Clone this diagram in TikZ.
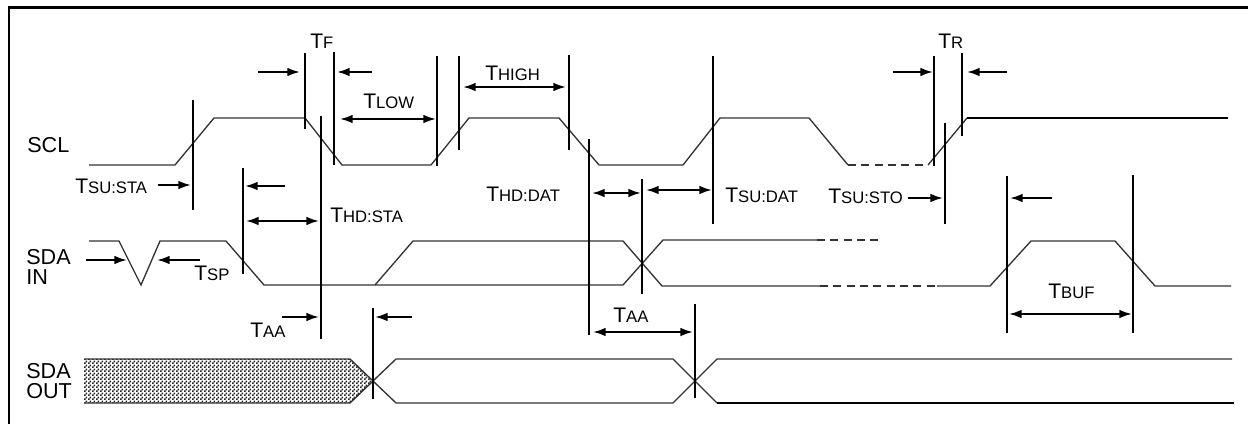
\documentclass[tikz,border=0pt]{standalone}
\usepackage{fontspec}
\setmainfont{Liberation Sans}
\usetikzlibrary{arrows.meta,patterns}
\pgfdeclarepatternformonly{checker}{\pgfqpoint{0pt}{0pt}}{\pgfqpoint{3pt}{3pt}}{\pgfqpoint{3pt}{3pt}}{%
  \pgfpathrectangle{\pgfqpoint{0pt}{0pt}}{\pgfqpoint{1.5pt}{1.5pt}}%
  \pgfpathrectangle{\pgfqpoint{1.5pt}{1.5pt}}{\pgfqpoint{1.5pt}{1.5pt}}%
  \pgfusepath{fill}}
\newcommand{\tlab}[1]{{\fontsize{15.8}{18}\selectfont T}{\fontsize{12.5}{14}\selectfont #1}}
\begin{document}
\begin{tikzpicture}[x=0.75pt,y=-0.75pt,
  sig/.style={line width=1pt,black!80,line join=miter},
  thk/.style={line width=1.5pt,black},
  dsh/.style={sig,dash pattern=on 6pt off 4pt},
  mk/.style={line width=1.6pt,black},
  arr/.style={line width=1.5pt,-{Latex[length=9.5pt,width=6.5pt]}},
  darr/.style={line width=1.5pt,{Latex[length=9.5pt,width=6.5pt]}-{Latex[length=9.5pt,width=6.5pt]}},
  lab/.style={anchor=base west,inner sep=0pt,font=\fontsize{15.8}{18}\selectfont},
  sl/.style={anchor=base west,inner sep=0pt,font=\fontsize{16.2}{18}\selectfont}]
\useasboundingbox (0,0) rectangle (1248,424);
% frame
\draw[line width=1.6pt] (9,424) -- (9,7.5) -- (1248,7.5);

% signal labels
\node[sl] (lscl) at (27,152) {SCL};
\node[sl] (lsdain1) at (26,264) {SDA};
\node[sl] (lsdain2) at (26,284) {IN};
\node[sl] (lsdaout1) at (26,378) {SDA};
\node[sl] (lsdaout2) at (26,398) {OUT};

% SCL
\draw[sig] (89,165) -- (175,165) -- (214,118) -- (305,118) -- (342,165) -- (431,165) -- (469,118) -- (559,118) -- (599,165) -- (683,165) -- (720,118) -- (809,118) -- (848,165);
\draw[dsh] (848,165) -- (928,165);
\draw[sig] (928,165) -- (967,118);
\draw[thk] (967,118) -- (1228,118);

% SDA IN
\draw[sig] (89,241) -- (119,241) -- (141,285) -- (160,241) -- (226,241) -- (264,285) -- (623,285) -- (663,240) -- (817,240);
\draw[dsh] (817,240) -- (883,240);
\draw[sig] (375,285) -- (413,241) -- (623,241) -- (662,286) -- (820,286);
\draw[dsh] (820,286) -- (937,286);
\draw[sig] (937,286) -- (990,286) -- (1031,241) -- (1115,241) -- (1155,286) -- (1231,286);

% SDA OUT
\draw[sig,fill=white,postaction={pattern=checker,pattern color=black!85}] (84,359) -- (350,359) -- (373,381) -- (350,403) -- (84,403);
\draw[sig] (373,381) -- (396,359) -- (673,359) -- (717,403);
\draw[thk] (717,403) -- (1234,403);
\draw[sig] (373,381) -- (396,403) -- (673,403) -- (717,359) -- (1232,359);

% markers
\draw[mk] (193,100) -- (193,210);
\draw[mk] (305,53) -- (305,129);
\draw[mk] (334,52) -- (334,165);
\draw[mk] (321,116) -- (321,339);
\draw[mk] (243,168) -- (243,274);
\draw[mk] (437,56) -- (437,166);
\draw[mk] (459,56) -- (459,150);
\draw[mk] (569,55) -- (569,150);
\draw[mk] (589,139) -- (589,335);
\draw[mk] (642,179) -- (642,294);
\draw[mk] (713,56) -- (713,224);
\draw[mk] (934,56) -- (934,166);
\draw[mk] (962,53) -- (962,136);
\draw[mk] (945,123) -- (945,224);
\draw[mk] (1007,176) -- (1007,333);
\draw[mk] (1133,175) -- (1133,333);
\draw[mk] (373,308) -- (373,399);
\draw[mk] (695,304) -- (695,398);

% arrows
\draw[arr] (258,72) -- (300,72);
\draw[arr] (372,72) -- (337,72);
\draw[darr] (340,119) -- (436,119);
\draw[darr] (463,87) -- (566,87);
\draw[arr] (158,185) -- (191,185);
\draw[arr] (285,186) -- (245,186);
\draw[darr] (246,221) -- (319,221);
\draw[darr] (592,193) -- (641,193);
\draw[darr] (646,190) -- (712,190);
\draw[arr] (893,72) -- (933,72);
\draw[arr] (1007,72) -- (967,72);
\draw[arr] (908,198) -- (943,198);
\draw[arr] (1052,198) -- (1010,198);
\draw[arr] (86,260) -- (127,260);
\draw[arr] (200,260) -- (157,260);
\draw[arr] (282,317) -- (319,317);
\draw[arr] (412,317) -- (375,317);
\draw[darr] (593,332) -- (693,332);
\draw[darr] (1009,314) -- (1132,314);

% timing labels
\node[lab] (tf) at (310,49) {\tlab{F}};
\node[lab] (tlow) at (363,109) {\tlab{LOW}};
\node[lab] (thigh) at (485,81) {\tlab{HIGH}};
\node[lab] (tsusta) at (75,193) {\tlab{SU:STA}};
\node[lab] (thdsta) at (330,222) {\tlab{HD:STA}};
\node[lab] (thddat) at (486,201) {\tlab{HD:DAT}};
\node[lab] (tsudat) at (725,202) {\tlab{SU:DAT}};
\node[lab] (tr) at (938,49) {\tlab{R}};
\node[lab] (tsusto) at (828,203) {\tlab{SU:STO}};
\node[lab] (tsp) at (194,280) {\tlab{SP}};
\node[lab] (taa1) at (250,337) {\tlab{AA}};
\node[lab] (taa2) at (613,322) {\tlab{AA}};
\node[lab] (tbuf) at (1048,298) {\tlab{BUF}};
\end{tikzpicture}
\end{document}
